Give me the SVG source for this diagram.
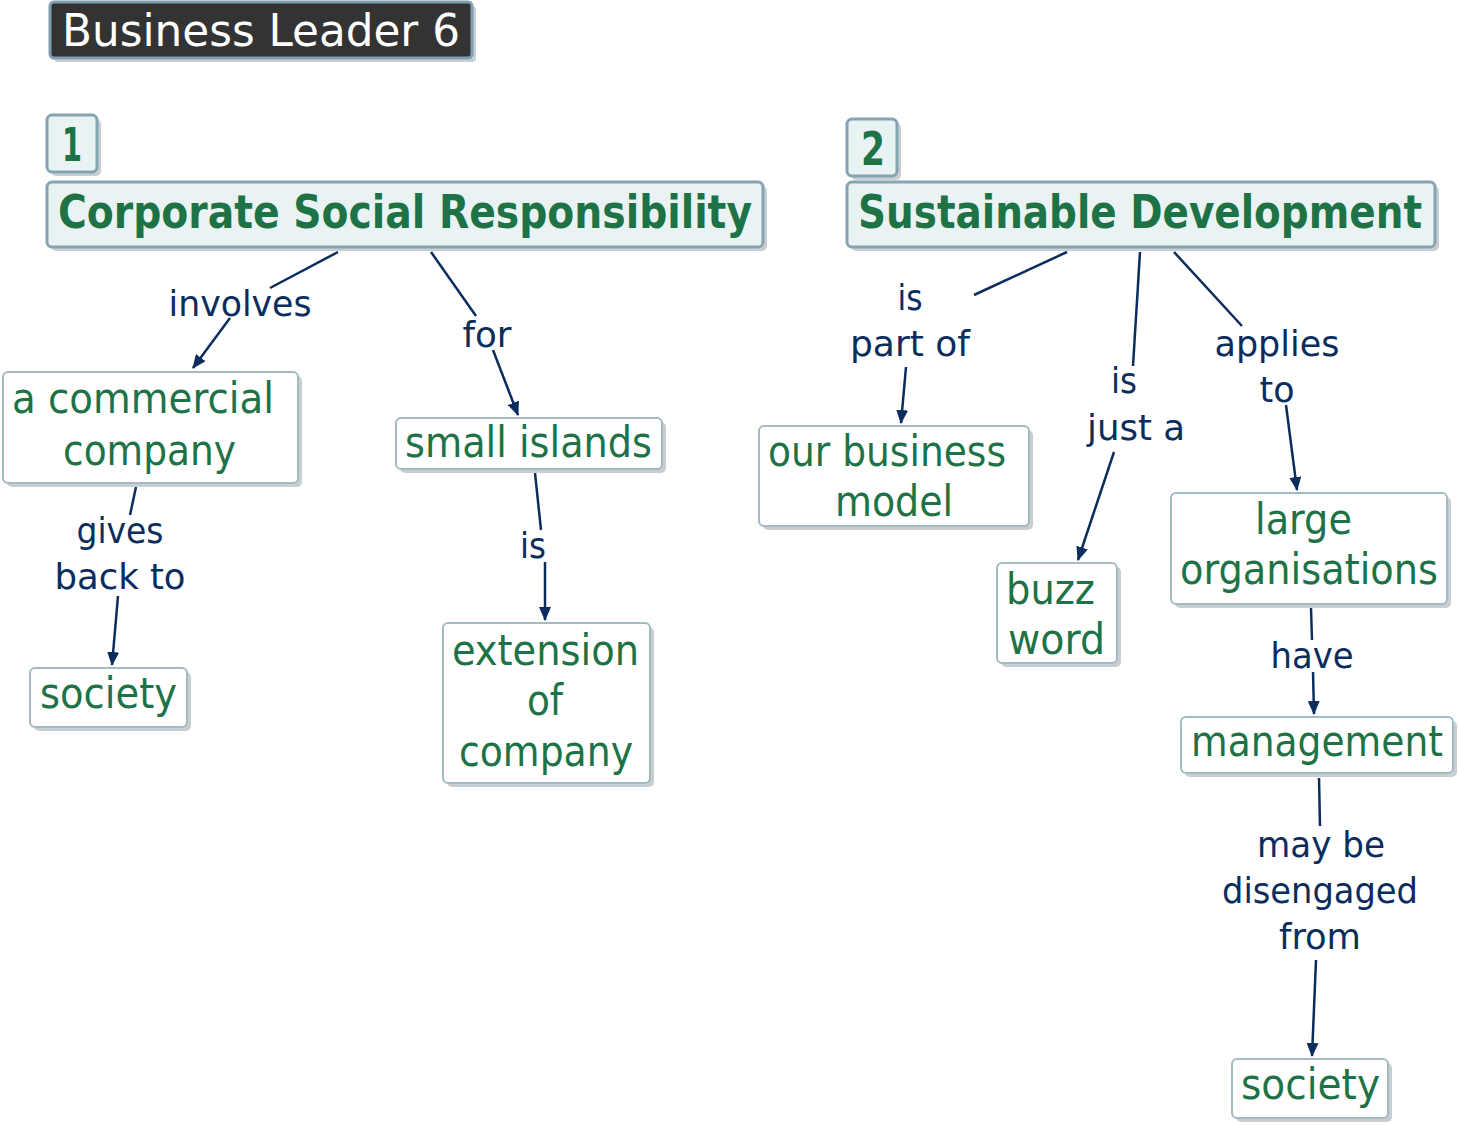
<svg xmlns="http://www.w3.org/2000/svg" width="1459" height="1125" viewBox="0 0 1459 1125">
<defs>
<marker id="ah" viewBox="0 0 14 12" refX="13" refY="6" markerWidth="14" markerHeight="12" markerUnits="userSpaceOnUse" orient="auto">
<path d="M0,0 L14,6 L0,12 z" fill="#0b2d5e"/>
</marker>
</defs>
<style>
text{font-family:'DejaVu Sans Condensed','DejaVu Sans',sans-serif}
.sh{fill:#c9ced2}
.hd{fill:#eaf3f4;stroke:#86a3b1;stroke-width:3}
.cp{fill:#ffffff;stroke:#a3bac3;stroke-width:2}
.ht{fill:#1e7346;font-size:46px;font-weight:bold}
.ct{fill:#1e7346;font-size:42px}
.lt{fill:#0b2d5e;font-size:36px;text-anchor:middle}
.ln{stroke:#0b2d5e;stroke-width:2.5;fill:none}
.ar{stroke:#0b2d5e;stroke-width:2.5;fill:none;marker-end:url(#ah)}
</style>
<rect width="1459" height="1125" fill="#ffffff"/>
<g id="title">
<rect x="54" y="6" width="422" height="56" rx="4" class="sh"/>
<rect x="50" y="2" width="422" height="56" rx="4" fill="#333333" stroke="#7f9fb0" stroke-width="3"/>
<text x="62" y="46" font-size="44" fill="#ffffff" textLength="398" lengthAdjust="spacingAndGlyphs">Business Leader 6</text>
</g>
<g id="connectors">
<path class="ln" d="M338,252 L270,288"/>
<path class="ar" d="M230,318 L193,368"/>
<path class="ln" d="M431,252 L476,316"/>
<path class="ar" d="M493,350 L518,415"/>
<path class="ln" d="M136,487 L130,515"/>
<path class="ar" d="M118,596 L112,665"/>
<path class="ln" d="M535,473 L541,530"/>
<path class="ar" d="M545,562 L545,620"/>
<path class="ln" d="M1067,252 L974,295"/>
<path class="ar" d="M906,367 L901,423"/>
<path class="ln" d="M1140,252 L1133,366"/>
<path class="ar" d="M1114,452 L1078,560"/>
<path class="ln" d="M1174,252 L1242,326"/>
<path class="ar" d="M1286,405 L1297,490"/>
<path class="ln" d="M1311,608 L1312,640"/>
<path class="ar" d="M1313,672 L1314,714"/>
<path class="ln" d="M1319,778 L1320,826"/>
<path class="ar" d="M1316,960 L1312,1056"/>
</g>
<g id="labels">
<text class="lt" x="240" y="316" textLength="143" lengthAdjust="spacingAndGlyphs">involves</text>
<text class="lt" x="487" y="347" textLength="49" lengthAdjust="spacingAndGlyphs">for</text>
<text class="lt" x="120" y="543" textLength="87" lengthAdjust="spacingAndGlyphs">gives</text>
<text class="lt" x="120" y="589" textLength="131" lengthAdjust="spacingAndGlyphs">back to</text>
<text class="lt" x="533" y="558" textLength="26" lengthAdjust="spacingAndGlyphs">is</text>
<text class="lt" x="910" y="310" textLength="25" lengthAdjust="spacingAndGlyphs">is</text>
<text class="lt" x="910" y="356" textLength="120" lengthAdjust="spacingAndGlyphs">part of</text>
<text class="lt" x="1124" y="393" textLength="26" lengthAdjust="spacingAndGlyphs">is</text>
<text class="lt" x="1136" y="440" textLength="98" lengthAdjust="spacingAndGlyphs">just a</text>
<text class="lt" x="1277" y="356" textLength="125" lengthAdjust="spacingAndGlyphs">applies</text>
<text class="lt" x="1277" y="402" textLength="35" lengthAdjust="spacingAndGlyphs">to</text>
<text class="lt" x="1312" y="668" textLength="83" lengthAdjust="spacingAndGlyphs">have</text>
<text class="lt" x="1321" y="857" textLength="128" lengthAdjust="spacingAndGlyphs">may be</text>
<text class="lt" x="1320" y="903" textLength="196" lengthAdjust="spacingAndGlyphs">disengaged</text>
<text class="lt" x="1320" y="949" textLength="82" lengthAdjust="spacingAndGlyphs">from</text>
</g>
<g id="n1">
<rect x="51" y="119" width="50" height="57" rx="5" class="sh"/>
<rect x="47" y="115" width="50" height="57" rx="5" class="hd"/>
<text class="ht" x="62" y="161" textLength="20" lengthAdjust="spacingAndGlyphs">1</text>
</g>
<g id="csr">
<rect x="51" y="186" width="716" height="65" rx="5" class="sh"/>
<rect x="47" y="182" width="716" height="65" rx="5" class="hd"/>
<text class="ht" x="58" y="228" textLength="694" lengthAdjust="spacingAndGlyphs">Corporate Social Responsibility</text>
</g>
<g id="n2">
<rect x="851" y="123" width="50" height="57" rx="5" class="sh"/>
<rect x="847" y="119" width="50" height="57" rx="5" class="hd"/>
<text class="ht" x="861" y="165" textLength="24" lengthAdjust="spacingAndGlyphs">2</text>
</g>
<g id="sd">
<rect x="851" y="186" width="588" height="65" rx="5" class="sh"/>
<rect x="847" y="182" width="588" height="65" rx="5" class="hd"/>
<text class="ht" x="858" y="228" textLength="564" lengthAdjust="spacingAndGlyphs">Sustainable Development</text>
</g>
<g id="commercial">
<rect x="7" y="376" width="295" height="111" rx="5" class="sh"/>
<rect x="3" y="372" width="295" height="111" rx="5" class="cp"/>
<text class="ct" x="12" y="413" textLength="262" lengthAdjust="spacingAndGlyphs">a commercial</text>
<text class="ct" x="63" y="465" textLength="173" lengthAdjust="spacingAndGlyphs">company</text>
</g>
<g id="islands">
<rect x="400" y="422" width="266" height="51" rx="5" class="sh"/>
<rect x="396" y="418" width="266" height="51" rx="5" class="cp"/>
<text class="ct" x="405" y="457" textLength="247" lengthAdjust="spacingAndGlyphs">small islands</text>
</g>
<g id="society1">
<rect x="34" y="672" width="157" height="59" rx="5" class="sh"/>
<rect x="30" y="668" width="157" height="59" rx="5" class="cp"/>
<text class="ct" x="40" y="708" textLength="137" lengthAdjust="spacingAndGlyphs">society</text>
</g>
<g id="extension">
<rect x="447" y="627" width="207" height="160" rx="5" class="sh"/>
<rect x="443" y="623" width="207" height="160" rx="5" class="cp"/>
<text class="ct" x="452" y="665" textLength="187" lengthAdjust="spacingAndGlyphs">extension</text>
<text class="ct" x="527" y="715" textLength="36" lengthAdjust="spacingAndGlyphs">of</text>
<text class="ct" x="459" y="766" textLength="174" lengthAdjust="spacingAndGlyphs">company</text>
</g>
<g id="model">
<rect x="763" y="430" width="270" height="100" rx="5" class="sh"/>
<rect x="759" y="426" width="270" height="100" rx="5" class="cp"/>
<text class="ct" x="768" y="466" textLength="238" lengthAdjust="spacingAndGlyphs">our business</text>
<text class="ct" x="835" y="516" textLength="118" lengthAdjust="spacingAndGlyphs">model</text>
</g>
<g id="buzz">
<rect x="1001" y="567" width="120" height="100" rx="5" class="sh"/>
<rect x="997" y="563" width="120" height="100" rx="5" class="cp"/>
<text class="ct" x="1006" y="604" textLength="89" lengthAdjust="spacingAndGlyphs">buzz</text>
<text class="ct" x="1008" y="654" textLength="97" lengthAdjust="spacingAndGlyphs">word</text>
</g>
<g id="large">
<rect x="1175" y="497" width="276" height="111" rx="5" class="sh"/>
<rect x="1171" y="493" width="276" height="111" rx="5" class="cp"/>
<text class="ct" x="1255" y="534" textLength="97" lengthAdjust="spacingAndGlyphs">large</text>
<text class="ct" x="1180" y="584" textLength="258" lengthAdjust="spacingAndGlyphs">organisations</text>
</g>
<g id="management">
<rect x="1185" y="721" width="272" height="56" rx="5" class="sh"/>
<rect x="1181" y="717" width="272" height="56" rx="5" class="cp"/>
<text class="ct" x="1191" y="756" textLength="252" lengthAdjust="spacingAndGlyphs">management</text>
</g>
<g id="society2">
<rect x="1236" y="1063" width="156" height="59" rx="5" class="sh"/>
<rect x="1232" y="1059" width="156" height="59" rx="5" class="cp"/>
<text class="ct" x="1241" y="1099" textLength="139" lengthAdjust="spacingAndGlyphs">society</text>
</g>
</svg>
